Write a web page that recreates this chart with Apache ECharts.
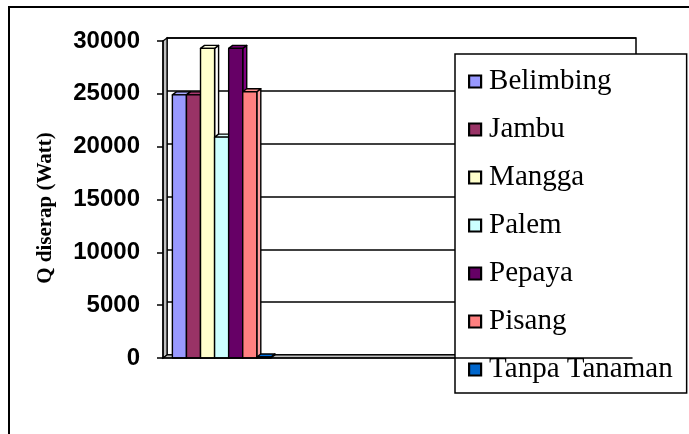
<!DOCTYPE html>
<html>
<head>
<meta charset="utf-8">
<script src="https://cdn.jsdelivr.net/npm/echarts@6/dist/echarts.min.js"></script>
<style>
  html, body { margin: 0; padding: 0; background: #fff; }
  #chart { width: 689px; height: 434px; }
</style>
</head>
<body>
<div id="chart"></div>
<script>
// Category slots along the x axis (no labels are printed under them)
const categories = ['', '', '', ''];
// Absorbed heat per plant type, in watts
const seriesNames  = ['Belimbing', 'Jambu', 'Mangga', 'Palem', 'Pepaya', 'Pisang', 'Tanpa Tanaman'];
const seriesValues = [24900, 24900, 29300, 20900, 29300, 25200, 100];
const seriesColors = ['#9999FF', '#993366', '#FFFFCC', '#CCFFFF', '#660066', '#FF8080', '#0066CC'];
// Value axis ticks
const yMin = 0, yMax = 30000, yStep = 5000;
const axisTitle = 'Q diserap (Watt)';

// Front plane of the plot and the depth offset of the back wall
const PLOT = { left: 163, top: 41, width: 469, height: 317 };
const DX = 4, DY = -3;
const CLUSTER = 0.84; // share of a category band filled by the column cluster

const chart = echarts.init(document.getElementById('chart'), null, { renderer: 'canvas' });

function columnRenderer(idx, color) {
  return function (params, api) {
    const cat = api.value(0);
    const base = api.coord([cat, 0]);
    const top = api.coord([cat, api.value(1)]);
    const band = api.size([1, 0])[0];
    const w = band * CLUSTER / seriesNames.length;
    const x = base[0] - band * CLUSTER / 2 + idx * w;
    const y0 = base[1], y1 = top[1];
    const edge = { stroke: '#000', lineWidth: 1.4, lineJoin: 'round' };
    return {
      type: 'group',
      children: [
        { type: 'polygon',
          shape: { points: [[x + w, y1], [x + w + DX, y1 + DY], [x + w + DX, y0 + DY], [x + w, y0]] },
          style: Object.assign({ fill: echarts.color.lift(color, -0.25) }, edge) },
        { type: 'polygon',
          shape: { points: [[x, y1], [x + DX, y1 + DY], [x + w + DX, y1 + DY], [x + w, y1]] },
          style: Object.assign({ fill: echarts.color.lift(color, -0.1) }, edge) },
        { type: 'rect',
          shape: { x: x, y: y1, width: w, height: y0 - y1 },
          style: Object.assign({ fill: color }, edge) }
      ]
    };
  };
}

const series = seriesNames.map(function (name, i) {
  return {
    name: name,
    type: 'custom',
    xAxisIndex: 0,
    yAxisIndex: 0,
    renderItem: columnRenderer(i, seriesColors[i]),
    itemStyle: { color: seriesColors[i], borderColor: '#000', borderWidth: 2.2 },
    encode: { x: 0, y: 1 },
    data: [[0, seriesValues[i]]],
    z: 3
  };
});

chart.setOption({
  animation: false,
  backgroundColor: '#fff',
  grid: [
    { left: PLOT.left, top: PLOT.top, width: PLOT.width, height: PLOT.height },
    { left: PLOT.left + DX, top: PLOT.top + DY, width: PLOT.width, height: PLOT.height,
      show: true, borderColor: '#000', borderWidth: 1.5, backgroundColor: 'transparent' }
  ],
  xAxis: [
    { gridIndex: 0, type: 'category', data: categories,
      axisLine: { lineStyle: { color: '#000', width: 1.5 } },
      axisTick: { length: 6, lineStyle: { color: '#000', width: 1.5 } },
      axisLabel: { show: false }, z: 4 },
    { gridIndex: 1, type: 'category', data: categories, show: false }
  ],
  yAxis: [
    { gridIndex: 0, type: 'value', min: yMin, max: yMax, interval: yStep,
      axisLine: { show: true, lineStyle: { color: '#000', width: 1.5 } },
      axisTick: { show: true, length: 6, lineStyle: { color: '#000', width: 1.5 } },
      axisLabel: { margin: 23, color: '#000', fontFamily: 'Liberation Sans', fontWeight: 'bold', fontSize: 24,
                   formatter: function (v) { return String(v); } },
      splitLine: { show: false }, z: 4 },
    { gridIndex: 1, type: 'value', min: yMin, max: yMax, interval: yStep,
      axisLine: { show: false }, axisTick: { show: false }, axisLabel: { show: false },
      splitLine: { show: true, lineStyle: { color: '#000', width: 1.5 } } }
  ],
  legend: {
    orient: 'vertical', left: 455, top: 54,
    padding: [13, 14, 9, 13], itemGap: 19,
    itemWidth: 12, itemHeight: 12, icon: 'rect',
    backgroundColor: '#fff', borderColor: '#000', borderWidth: 1.5,
    itemStyle: { borderColor: '#000', borderWidth: 2.2 },
    textStyle: { fontFamily: 'Liberation Serif', fontSize: 29, color: '#000', lineHeight: 29, padding: [0, 0, 0, 3] },
    selectedMode: false,
    data: seriesNames
  },
  series: series
});

// Side wall, floor, outer frame and the value-axis title
const px = function (cat, val) { return chart.convertToPixel({ xAxisIndex: 0, yAxisIndex: 0 }, [cat, val]); };
const c0 = px(0, yMin), c1 = px(1, yMin), cEnd = px(categories.length - 1, yMax);
const band = c1[0] - c0[0];
const L = c0[0] - band / 2, R = cEnd[0] + band / 2;
const yb = c0[1], yt = cEnd[1];
const shade = { fill: '#c0c0c0', stroke: '#000', lineWidth: 1.2 };

chart.setOption({
  graphic: [
    { type: 'polygon', z: 1, shape: { points: [[L, yt], [L + DX, yt + DY], [L + DX, yb + DY], [L, yb]] }, style: shade },
    { type: 'polygon', z: 1, shape: { points: [[L, yb], [L + DX, yb + DY], [R + DX, yb + DY], [R, yb]] }, style: shade },
    { type: 'rect', z: 0, shape: { x: 9, y: 7, width: 720, height: 460 },
      style: { fill: 'none', stroke: '#000', lineWidth: 2 } },
    { type: 'text', z: 5, x: 46, y: 208, rotation: Math.PI / 2,
      style: { text: axisTitle, fontFamily: 'Liberation Serif', fontWeight: 'bold', fontSize: 21,
               fill: '#000', align: 'center', verticalAlign: 'middle' } }
  ]
});
</script>
</body>
</html>
